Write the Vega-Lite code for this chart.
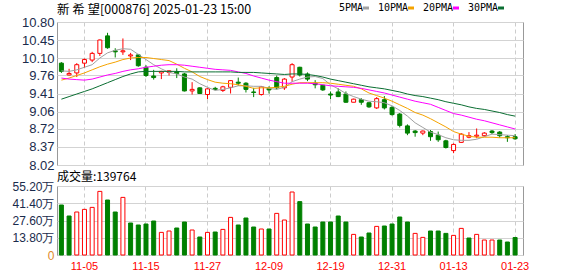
{
"$schema": "https://vega.github.io/schema/vega-lite/v6.json",
"padding": {"left": 0, "top": 3, "right": 0, "bottom": 0},
"background": "white",
"spacing": -3,
"config": {"view": {"stroke": "#999999"}, "axis": {"labelFont": "Liberation Sans", "labelOverlap": false, "labelFlush": false}},
"datasets": {"k": [
{"d":"10-31","o":10.00,"h":10.02,"l":9.81,"c":9.84,"v":400000,"vd":"d","5PMA":9.85,"10PMA":9.67,"20PMA":9.71,"30PMA":9.30},
{"d":"11-01","o":9.77,"h":9.89,"l":9.76,"c":9.80,"v":312000,"vd":"d","5PMA":9.84,"10PMA":9.71,"20PMA":9.69,"30PMA":9.35},
{"d":"11-04","o":9.81,"h":10.00,"l":9.73,"c":9.97,"v":344000,"vd":"u","5PMA":9.87,"10PMA":9.76,"20PMA":9.68,"30PMA":9.40},
{"d":"11-05","o":10.00,"h":10.09,"l":9.91,"c":10.07,"v":365000,"vd":"u","5PMA":9.92,"10PMA":9.81,"20PMA":9.67,"30PMA":9.45},
{"d":"11-06","o":10.06,"h":10.22,"l":10.02,"c":10.19,"v":381000,"vd":"u","5PMA":9.97,"10PMA":9.87,"20PMA":9.69,"30PMA":9.50},
{"d":"11-07","o":10.19,"h":10.46,"l":10.14,"c":10.45,"v":509000,"vd":"u","5PMA":10.10,"10PMA":9.93,"20PMA":9.73,"30PMA":9.56},
{"d":"11-08","o":10.53,"h":10.59,"l":10.28,"c":10.30,"v":440000,"vd":"d","5PMA":10.20,"10PMA":9.98,"20PMA":9.77,"30PMA":9.62},
{"d":"11-11","o":10.24,"h":10.29,"l":10.11,"c":10.22,"v":344000,"vd":"d","5PMA":10.25,"10PMA":10.02,"20PMA":9.80,"30PMA":9.68},
{"d":"11-12","o":10.22,"h":10.48,"l":10.16,"c":10.24,"v":461000,"vd":"u","5PMA":10.28,"10PMA":10.07,"20PMA":9.84,"30PMA":9.74},
{"d":"11-13","o":10.14,"h":10.20,"l":10.06,"c":10.16,"v":256000,"vd":"d","5PMA":10.27,"10PMA":10.10,"20PMA":9.87,"30PMA":9.79},
{"d":"11-14","o":10.16,"h":10.18,"l":9.93,"c":9.95,"v":240000,"vd":"d","5PMA":10.17,"10PMA":10.11,"20PMA":9.89,"30PMA":9.83},
{"d":"11-15","o":9.92,"h":9.96,"l":9.73,"c":9.76,"v":248000,"vd":"d","5PMA":10.07,"10PMA":10.11,"20PMA":9.92,"30PMA":9.84},
{"d":"11-18","o":9.75,"h":9.87,"l":9.68,"c":9.72,"v":272000,"vd":"d","5PMA":9.97,"10PMA":10.09,"20PMA":9.94,"30PMA":9.84},
{"d":"11-19","o":9.81,"h":9.85,"l":9.69,"c":9.84,"v":181000,"vd":"u","5PMA":9.89,"10PMA":10.07,"20PMA":9.96,"30PMA":9.84},
{"d":"11-20","o":9.82,"h":9.86,"l":9.76,"c":9.85,"v":192000,"vd":"u","5PMA":9.82,"10PMA":10.05,"20PMA":9.97,"30PMA":9.84},
{"d":"11-21","o":9.83,"h":9.90,"l":9.71,"c":9.80,"v":216000,"vd":"d","5PMA":9.79,"10PMA":9.98,"20PMA":9.97,"30PMA":9.84},
{"d":"11-22","o":9.79,"h":9.81,"l":9.45,"c":9.46,"v":264000,"vd":"d","5PMA":9.73,"10PMA":9.90,"20PMA":9.96,"30PMA":9.83},
{"d":"11-25","o":9.46,"h":9.63,"l":9.39,"c":9.49,"v":200000,"vd":"u","5PMA":9.69,"10PMA":9.83,"20PMA":9.94,"30PMA":9.83},
{"d":"11-26","o":9.52,"h":9.53,"l":9.40,"c":9.41,"v":144000,"vd":"d","5PMA":9.60,"10PMA":9.74,"20PMA":9.92,"30PMA":9.83},
{"d":"11-27","o":9.39,"h":9.51,"l":9.30,"c":9.50,"v":181000,"vd":"u","5PMA":9.53,"10PMA":9.68,"20PMA":9.90,"30PMA":9.83},
{"d":"11-28","o":9.51,"h":9.54,"l":9.47,"c":9.49,"v":184000,"vd":"d","5PMA":9.47,"10PMA":9.63,"20PMA":9.88,"30PMA":9.83},
{"d":"11-29","o":9.47,"h":9.56,"l":9.44,"c":9.54,"v":205000,"vd":"u","5PMA":9.49,"10PMA":9.61,"20PMA":9.87,"30PMA":9.83},
{"d":"12-02","o":9.53,"h":9.67,"l":9.41,"c":9.66,"v":301000,"vd":"u","5PMA":9.52,"10PMA":9.60,"20PMA":9.86,"30PMA":9.83},
{"d":"12-03","o":9.63,"h":9.72,"l":9.56,"c":9.61,"v":240000,"vd":"d","5PMA":9.56,"10PMA":9.58,"20PMA":9.83,"30PMA":9.82},
{"d":"12-04","o":9.61,"h":9.63,"l":9.43,"c":9.49,"v":296000,"vd":"d","5PMA":9.56,"10PMA":9.55,"20PMA":9.80,"30PMA":9.82},
{"d":"12-05","o":9.44,"h":9.52,"l":9.34,"c":9.43,"v":224000,"vd":"d","5PMA":9.55,"10PMA":9.51,"20PMA":9.75,"30PMA":9.82},
{"d":"12-06","o":9.39,"h":9.55,"l":9.37,"c":9.54,"v":208000,"vd":"u","5PMA":9.55,"10PMA":9.52,"20PMA":9.71,"30PMA":9.81},
{"d":"12-09","o":9.51,"h":9.55,"l":9.41,"c":9.48,"v":208000,"vd":"d","5PMA":9.51,"10PMA":9.52,"20PMA":9.67,"30PMA":9.80},
{"d":"12-10","o":9.72,"h":9.76,"l":9.49,"c":9.52,"v":333000,"vd":"u","5PMA":9.49,"10PMA":9.53,"20PMA":9.64,"30PMA":9.79},
{"d":"12-11","o":9.52,"h":9.71,"l":9.48,"c":9.69,"v":280000,"vd":"u","5PMA":9.53,"10PMA":9.55,"20PMA":9.61,"30PMA":9.78},
{"d":"12-12","o":9.73,"h":10.00,"l":9.64,"c":9.97,"v":504000,"vd":"u","5PMA":9.64,"10PMA":9.59,"20PMA":9.61,"30PMA":9.79},
{"d":"12-13","o":9.92,"h":9.93,"l":9.74,"c":9.77,"v":427000,"vd":"d","5PMA":9.69,"10PMA":9.62,"20PMA":9.61,"30PMA":9.79},
{"d":"12-16","o":9.79,"h":9.82,"l":9.65,"c":9.69,"v":248000,"vd":"d","5PMA":9.73,"10PMA":9.62,"20PMA":9.61,"30PMA":9.78},
{"d":"12-17","o":9.61,"h":9.67,"l":9.51,"c":9.58,"v":224000,"vd":"d","5PMA":9.74,"10PMA":9.62,"20PMA":9.60,"30PMA":9.76},
{"d":"12-18","o":9.57,"h":9.58,"l":9.46,"c":9.48,"v":264000,"vd":"d","5PMA":9.70,"10PMA":9.62,"20PMA":9.58,"30PMA":9.73},
{"d":"12-19","o":9.40,"h":9.45,"l":9.30,"c":9.38,"v":264000,"vd":"d","5PMA":9.58,"10PMA":9.61,"20PMA":9.56,"30PMA":9.69},
{"d":"12-20","o":9.44,"h":9.51,"l":9.34,"c":9.35,"v":312000,"vd":"d","5PMA":9.50,"10PMA":9.59,"20PMA":9.55,"30PMA":9.66},
{"d":"12-23","o":9.40,"h":9.45,"l":9.23,"c":9.24,"v":264000,"vd":"d","5PMA":9.41,"10PMA":9.57,"20PMA":9.54,"30PMA":9.63},
{"d":"12-24","o":9.24,"h":9.31,"l":9.24,"c":9.30,"v":165000,"vd":"u","5PMA":9.35,"10PMA":9.55,"20PMA":9.53,"30PMA":9.60},
{"d":"12-25","o":9.29,"h":9.32,"l":9.19,"c":9.24,"v":144000,"vd":"d","5PMA":9.30,"10PMA":9.50,"20PMA":9.51,"30PMA":9.57},
{"d":"12-26","o":9.23,"h":9.24,"l":9.13,"c":9.15,"v":176000,"vd":"d","5PMA":9.26,"10PMA":9.42,"20PMA":9.48,"30PMA":9.54},
{"d":"12-27","o":9.13,"h":9.34,"l":9.11,"c":9.31,"v":229000,"vd":"u","5PMA":9.25,"10PMA":9.37,"20PMA":9.45,"30PMA":9.52},
{"d":"12-30","o":9.29,"h":9.36,"l":9.10,"c":9.13,"v":232000,"vd":"d","5PMA":9.23,"10PMA":9.32,"20PMA":9.42,"30PMA":9.50},
{"d":"12-31","o":9.14,"h":9.17,"l":8.98,"c":9.00,"v":248000,"vd":"d","5PMA":9.17,"10PMA":9.26,"20PMA":9.38,"30PMA":9.47},
{"d":"01-02","o":9.01,"h":9.03,"l":8.75,"c":8.79,"v":304000,"vd":"d","5PMA":9.08,"10PMA":9.19,"20PMA":9.34,"30PMA":9.44},
{"d":"01-03","o":8.78,"h":8.81,"l":8.60,"c":8.64,"v":264000,"vd":"d","5PMA":8.97,"10PMA":9.12,"20PMA":9.30,"30PMA":9.40},
{"d":"01-06","o":8.68,"h":8.70,"l":8.57,"c":8.65,"v":173000,"vd":"u","5PMA":8.84,"10PMA":9.04,"20PMA":9.26,"30PMA":9.37},
{"d":"01-07","o":8.64,"h":8.69,"l":8.60,"c":8.68,"v":141000,"vd":"u","5PMA":8.75,"10PMA":8.99,"20PMA":9.23,"30PMA":9.35},
{"d":"01-08","o":8.67,"h":8.70,"l":8.49,"c":8.57,"v":192000,"vd":"d","5PMA":8.66,"10PMA":8.92,"20PMA":9.20,"30PMA":9.32},
{"d":"01-09","o":8.60,"h":8.67,"l":8.47,"c":8.51,"v":192000,"vd":"d","5PMA":8.61,"10PMA":8.84,"20PMA":9.14,"30PMA":9.29},
{"d":"01-10","o":8.49,"h":8.51,"l":8.34,"c":8.36,"v":173000,"vd":"d","5PMA":8.55,"10PMA":8.76,"20PMA":9.08,"30PMA":9.25},
{"d":"01-13","o":8.30,"h":8.44,"l":8.25,"c":8.42,"v":157000,"vd":"u","5PMA":8.51,"10PMA":8.67,"20PMA":9.02,"30PMA":9.22},
{"d":"01-14","o":8.46,"h":8.64,"l":8.45,"c":8.62,"v":213000,"vd":"u","5PMA":8.50,"10PMA":8.62,"20PMA":8.99,"30PMA":9.19},
{"d":"01-15","o":8.56,"h":8.66,"l":8.54,"c":8.59,"v":136000,"vd":"d","5PMA":8.50,"10PMA":8.58,"20PMA":8.95,"30PMA":9.15},
{"d":"01-16","o":8.58,"h":8.73,"l":8.54,"c":8.60,"v":165000,"vd":"u","5PMA":8.52,"10PMA":8.56,"20PMA":8.91,"30PMA":9.12},
{"d":"01-17","o":8.59,"h":8.66,"l":8.57,"c":8.64,"v":120000,"vd":"u","5PMA":8.57,"10PMA":8.56,"20PMA":8.88,"30PMA":9.10},
{"d":"01-20","o":8.68,"h":8.70,"l":8.62,"c":8.65,"v":120000,"vd":"u","5PMA":8.62,"10PMA":8.56,"20PMA":8.84,"30PMA":9.07},
{"d":"01-21","o":8.66,"h":8.68,"l":8.55,"c":8.59,"v":120000,"vd":"d","5PMA":8.61,"10PMA":8.55,"20PMA":8.80,"30PMA":9.04},
{"d":"01-22","o":8.57,"h":8.60,"l":8.47,"c":8.55,"v":104000,"vd":"d","5PMA":8.60,"10PMA":8.55,"20PMA":8.76,"30PMA":9.00},
{"d":"01-23","o":8.57,"h":8.62,"l":8.51,"c":8.53,"v":139764,"vd":"d","5PMA":8.59,"10PMA":8.55,"20PMA":8.72,"30PMA":8.97}
]},
"vconcat": [
{
"width": 466, "height": 143,
"title": {"text": "新 希 望[000876] 2025-01-23 15:00", "anchor": "start", "frame": "group", "font": "Noto Sans CJK SC", "fontSize": 12.5, "fontWeight": "normal", "color": "#000000", "offset": 0},
"data": {"name": "k"},
"encoding": {
"x": {"field": "d", "type": "ordinal", "sort": null,
"scale": {"type": "band", "paddingInner": 0, "paddingOuter": 0.3, "align": 0.12},
"axis": {"values": ["11-05","11-15","11-27","12-09","12-19","12-31","01-13","01-23"], "labels": false, "ticks": false, "domain": false, "grid": true, "gridDash": [4,3], "gridColor": "#cccccc", "title": null, "bandPosition": 0.5, "minExtent": 0, "maxExtent": 0, "labelPadding": 0}}
},
"layer": [
{"mark": {"type": "rule", "strokeWidth": 1},
"encoding": {
"y": {"field": "l", "type": "quantitative", "scale": {"domain": [8.02, 10.8], "zero": false, "nice": false},
"axis": {"values": [8.02,8.37,8.72,9.06,9.41,9.76,10.10,10.45,10.80], "tickCount": 20, "format": ".2f", "grid": true, "gridColor": "#d3d3d3", "ticks": false, "domain": false, "labelColor": "#1a2b4c", "labelFontSize": 13, "labelPadding": 3, "labelFlush": false, "labelOverlap": false, "title": null, "minExtent": 56, "maxExtent": 56}},
"y2": {"field": "h"},
"color": {"condition": {"test": "datum.c >= datum.o", "value": "#ff0000"}, "value": "#008000"}
}},
{"mark": {"type": "bar", "size": 4, "strokeWidth": 1},
"encoding": {
"y": {"field": "o", "type": "quantitative"},
"y2": {"field": "c"},
"fill": {"condition": {"test": "datum.c >= datum.o", "value": "#ffffff"}, "value": "#008000"},
"stroke": {"condition": {"test": "datum.c >= datum.o", "value": "#ff0000"}, "value": "#008000"}
}},
{"transform": [{"fold": ["5PMA","10PMA","20PMA","30PMA"], "as": ["k","val"]}],
"mark": {"type": "line", "strokeWidth": 1, "interpolate": "linear"},
"encoding": {
"y": {"field": "val", "type": "quantitative"},
"color": {"field": "k", "type": "nominal",
"scale": {"domain": ["5PMA","10PMA","20PMA","30PMA"], "range": ["#a0a0a0","#f5a300","#ff00ff","#0a6e32"]},
"legend": {"orient": "none", "legendX": 304, "legendY": -19, "direction": "horizontal", "title": null,
"symbolType": "stroke", "symbolSize": 36, "symbolStrokeWidth": 3,
"labelFont": "DejaVu Sans Mono", "labelFontSize": 10, "labelColor": "#000000",
"labelAlign": "right", "labelOffset": -8, "columnPadding": 2, "padding": 0}}
}}
]
},
{
"width": 466, "height": 69,
"title": {"text": "成交量:139764", "anchor": "start", "frame": "group", "font": "Noto Sans CJK SC", "fontSize": 12, "fontWeight": "normal", "color": "#000000", "offset": -4},
"data": {"name": "k"},
"mark": {"type": "bar", "size": 4, "strokeWidth": 1},
"encoding": {
"x": {"field": "d", "type": "ordinal", "sort": null,
"scale": {"type": "band", "paddingInner": 0, "paddingOuter": 0.3, "align": 0.12},
"axis": {"values": ["11-05","11-15","11-27","12-09","12-19","12-31","01-13","01-23"], "labelColor": "#ff0000", "labelFontSize": 11, "labelAngle": 0, "labelPadding": 5, "ticks": false, "domain": false, "grid": true, "gridDash": [4,3], "gridColor": "#cccccc", "title": null, "bandPosition": 0.5}},
"y": {"field": "v", "type": "quantitative", "scale": {"domain": [0, 552000], "nice": false},
"axis": {"values": [0,138000,276000,414000,552000], "tickCount": 20, "labelExpr": "datum.value == 0 ? '0' : format(datum.value / 10000, '.2f') + '万'", "grid": true, "gridColor": "#d3d3d3", "ticks": false, "domain": false, "labelColor": {"condition": {"test": "datum.value == 0", "value": "#e0892a"}, "value": "#1a2b4c"}, "labelFontSize": 12, "labelPadding": 3, "labelFlush": false, "labelOverlap": false, "title": null, "minExtent": 56, "maxExtent": 56}},
"fill": {"condition": {"test": "datum.vd == 'u'", "value": "#ffffff"}, "value": "#008000"},
"stroke": {"condition": {"test": "datum.vd == 'u'", "value": "#ff0000"}, "value": "#008000"}
}
}
]
}
